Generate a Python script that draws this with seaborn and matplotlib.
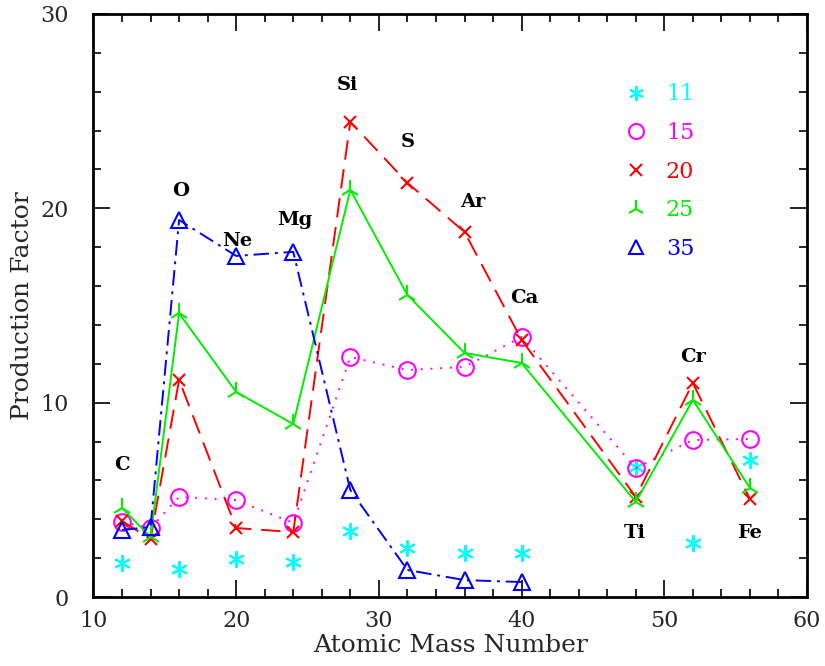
import matplotlib
matplotlib.use("Agg")
import matplotlib.pyplot as plt
from matplotlib.lines import Line2D
from matplotlib.ticker import MultipleLocator
import pandas as pd
import seaborn as sns

# atomic mass numbers of the alpha-ish isotopes shown
mass = [12, 14, 16, 20, 24, 28, 32, 36, 40, 48, 52, 56]

# production factors per progenitor mass (Msun)
pf_11 = [1.75, None, 1.44, 1.96, 1.80, 3.40, 2.52, 2.26, 2.26, 6.70, 2.78, 7.05]
pf_15 = [3.86, 3.55, 5.15, 4.99, 3.81, 12.35, 11.68, 11.84, 13.38, 6.64, 8.08, 8.13]
pf_20 = [3.91, 2.98, 11.17, 3.55, 3.34, 24.45, 21.31, 18.78, 13.23, 5.15, 11.01, 5.04]
pf_25 = [4.58, 3.09, 14.60, 10.55, 8.90, 20.95, 15.54, 12.56, 12.04, 4.89, 10.14, 5.61]
pf_35 = [3.45, 3.60, 19.40, 17.55, 17.76, 5.50, 1.39, 0.87, 0.77, None, None, None]

series_labels = ["11", "15", "20", "25", "35"]

# element names and where they are written
elem_names = ["C", "O", "Ne", "Mg", "Si", "S", "Ar", "Ca", "Ti", "Cr", "Fe"]
elem_x = [12.0, 16.1, 20.1, 24.1, 27.8, 32.0, 36.6, 40.2, 47.9, 52.0, 56.0]
elem_y = [6.8, 20.9, 18.3, 19.4, 26.35, 23.4, 20.3, 15.4, 3.3, 12.35, 3.3]

styles = {
    "11": dict(color="#00ffff", marker=(6, 2, 0), ls="none", ms=12),
    "15": dict(color="#ff00ff", marker="o", ls=(0, (1, 4)), ms=12),
    "20": dict(color="#ff0000", marker="x", ls=(0, (10, 5)), ms=9),
    "25": dict(color="#00ee00", marker="2", ls="-", ms=14),
    "35": dict(color="#0000ff", marker="^", ls=(0, (8, 3, 1.5, 3)), ms=11),
}

sns.set_style("ticks")
plt.rcParams["font.family"] = ["DejaVu Serif"]
plt.rcParams["mathtext.fontset"] = "dejavuserif"

fig = plt.figure(figsize=(8.25, 6.66), dpi=100)
ax = fig.add_axes([0.1133, 0.1036, 0.8649, 0.8754])

for lab, vals in zip(series_labels, [pf_11, pf_15, pf_20, pf_25, pf_35]):
    df = pd.DataFrame({"A": mass, "PF": vals}).dropna()
    st = styles[lab]
    sns.lineplot(
        data=df, x="A", y="PF", ax=ax, sort=False, estimator=None,
        color=st["color"], linestyle=st["ls"], linewidth=1.4,
        marker=st["marker"], markersize=st["ms"], markerfacecolor="none",
        markeredgecolor=st["color"], markeredgewidth=1.5,
    )

for name, x, y in zip(elem_names, elem_x, elem_y):
    ax.text(x, y, name, ha="center", va="center", fontsize=14,
            fontweight="bold", color="black")

handles = [
    Line2D([], [], color=styles[l]["color"], marker=styles[l]["marker"],
           ls="none", ms=styles[l]["ms"] * 0.9, mfc="none", mew=1.5)
    for l in series_labels
]
leg = ax.legend(handles, series_labels, loc="upper left",
                bbox_to_anchor=(0.7266, 0.90), frameon=False, fontsize=16,
                handlelength=1.2, handletextpad=0.73, labelspacing=0.75,
                borderpad=0)
for txt, l in zip(leg.get_texts(), series_labels):
    txt.set_color(styles[l]["color"])

ax.set_xlim(10, 60)
ax.set_ylim(0, 30)
ax.xaxis.set_major_locator(MultipleLocator(10))
ax.xaxis.set_minor_locator(MultipleLocator(2))
ax.yaxis.set_major_locator(MultipleLocator(10))
ax.yaxis.set_minor_locator(MultipleLocator(2))
ax.tick_params(which="both", direction="in", top=True, right=True,
               color="black", width=1.2)
ax.tick_params(which="major", length=12)
ax.tick_params(which="minor", length=6)
ax.tick_params(axis="x", labelsize=16, pad=9)
ax.tick_params(axis="y", labelsize=16, pad=18)
for sp in ax.spines.values():
    sp.set_linewidth(2.0)
    sp.set_color("black")

ax.set_xlabel("Atomic Mass Number", fontsize=18, labelpad=2)
ax.set_ylabel("Production Factor", fontsize=18, labelpad=4)

fig.savefig("out.png", dpi=100)
